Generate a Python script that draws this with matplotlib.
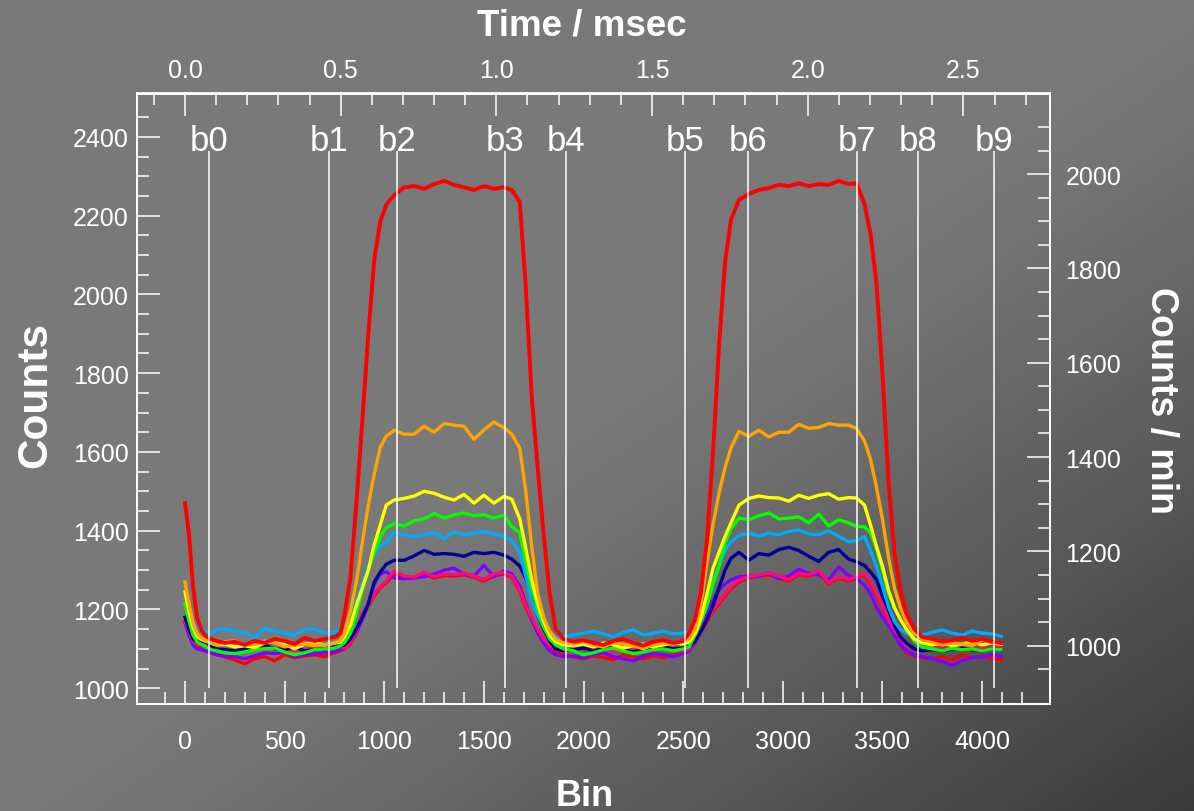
import numpy as np
import matplotlib
matplotlib.use("Agg")
import matplotlib.pyplot as plt
from matplotlib.ticker import FixedLocator, FormatStrFormatter

plt.rcParams['font.family'] = ['Liberation Sans', 'DejaVu Sans']

# ---------------- data ----------------
bins = [0, 20, 40, 60, 80, 100, 130, 160, 200, 250, 300, 350, 400, 450, 500, 550, 600, 650, 700, 750, 780,
        800, 830, 860, 890, 920, 950, 980, 1010,
        1050, 1100, 1150, 1200, 1250, 1300, 1350, 1400, 1450, 1500, 1550, 1600,
        1640, 1680, 1710, 1740, 1770, 1800, 1830, 1860, 1900,
        1950, 2000, 2050, 2100, 2150, 2200, 2250, 2300, 2350, 2400, 2450, 2500,
        2530, 2560, 2590, 2620, 2650, 2680, 2710, 2740,
        2780, 2830, 2880, 2930, 2980, 3030, 3080, 3130, 3180, 3230, 3280, 3330,
        3370, 3410, 3440, 3470, 3500, 3530, 3560, 3590, 3620, 3660, 3700,
        3750, 3800, 3850, 3900, 3950, 4000, 4050, 4095]

red = [1470, 1390, 1260, 1180, 1150, 1135, 1125, 1120, 1115, 1118, 1110, 1120, 1115, 1125, 1120, 1112, 1128, 1120, 1125, 1130, 1140,
       1185, 1280, 1470, 1680, 1900, 2090, 2185, 2228,
       2252, 2272, 2275, 2268, 2280, 2288, 2278, 2272, 2265, 2275, 2268, 2272,
       2265, 2235, 2020, 1740, 1560, 1390, 1240, 1150, 1125,
       1118, 1122, 1115, 1110, 1120, 1125, 1115, 1108, 1118, 1122, 1115, 1120,
       1140, 1175, 1245, 1380, 1600, 1870, 2080, 2190,
       2240, 2255, 2265, 2270, 2278, 2275, 2282, 2275, 2280, 2278, 2288, 2280,
       2282, 2230, 2155, 2030, 1800, 1530, 1345, 1250, 1190, 1150, 1130,
       1125, 1118, 1122, 1128, 1120, 1125, 1118, 1115]

red_low = [1170, 1150, 1125, 1110, 1100, 1095, 1090, 1085, 1080, 1072, 1062, 1075, 1080, 1070, 1085, 1078, 1082, 1085, 1080, 1090, 1095,
           1100, 1112, 1140, 1180, 1210, 1235, 1255, 1268,
           1290, 1282, 1280, 1290, 1280, 1286, 1285, 1288, 1282, 1272, 1285, 1290,
           1282, 1245, 1205, 1175, 1145, 1120, 1100, 1090, 1085,
           1080, 1075, 1082, 1078, 1072, 1085, 1080, 1075, 1082, 1078, 1085, 1088,
           1095, 1115, 1145, 1170, 1195, 1215, 1235, 1252,
           1270, 1280, 1285, 1288, 1280, 1272, 1288, 1285, 1292, 1265, 1280, 1272,
           1280, 1288, 1265, 1235, 1205, 1170, 1140, 1110, 1090, 1082, 1078,
           1075, 1080, 1072, 1085, 1078, 1082, 1076, 1072]

orange = [1270, 1215, 1165, 1140, 1128, 1122, 1115, 1110, 1118, 1120, 1110, 1112, 1120, 1115, 1105, 1110, 1112, 1108, 1110, 1115, 1122,
          1140, 1195, 1270, 1370, 1465, 1545, 1612, 1640,
          1655, 1645, 1645, 1665, 1650, 1672, 1668, 1665, 1632, 1656, 1676, 1662,
          1645, 1610, 1500, 1360, 1240, 1180, 1145, 1125, 1115,
          1112, 1118, 1110, 1105, 1115, 1112, 1108, 1100, 1110, 1115, 1112, 1118,
          1125, 1150, 1215, 1320, 1415, 1495, 1560, 1610,
          1652, 1640, 1655, 1638, 1650, 1650, 1670, 1660, 1662, 1672, 1668, 1668,
          1660, 1628, 1582, 1510, 1430, 1334, 1255, 1205, 1168, 1140, 1125,
          1118, 1110, 1115, 1112, 1108, 1122, 1118, 1115]

yellow = [1245, 1195, 1155, 1132, 1125, 1120, 1115, 1110, 1112, 1105, 1108, 1103, 1115, 1120, 1112, 1100, 1112, 1115, 1110, 1115, 1118,
          1130, 1160, 1210, 1255, 1300, 1365, 1415, 1465,
          1478, 1482, 1488, 1500, 1495, 1485, 1478, 1492, 1470, 1490, 1470, 1487,
          1480, 1430, 1355, 1275, 1215, 1170, 1135, 1118, 1110,
          1108, 1112, 1105, 1115, 1110, 1102, 1108, 1112, 1105, 1110, 1115, 1112,
          1118, 1140, 1180, 1240, 1305, 1345, 1385, 1420,
          1465, 1482, 1488, 1484, 1483, 1475, 1490, 1482, 1490, 1494, 1480, 1484,
          1483, 1465, 1415, 1360, 1310, 1250, 1205, 1175, 1150, 1125, 1115,
          1110, 1115, 1108, 1112, 1118, 1110, 1115, 1112]

green = [1215, 1170, 1135, 1118, 1112, 1108, 1098, 1095, 1090, 1088, 1092, 1098, 1100, 1102, 1092, 1085, 1090, 1098, 1100, 1102, 1108,
         1115, 1140, 1190, 1250, 1300, 1345, 1385, 1408,
         1418, 1412, 1425, 1430, 1444, 1432, 1440, 1445, 1438, 1441, 1432, 1440,
         1410, 1395, 1320, 1255, 1200, 1155, 1125, 1110, 1100,
         1095, 1085, 1090, 1098, 1102, 1095, 1088, 1092, 1098, 1100, 1095, 1100,
         1105, 1135, 1170, 1210, 1265, 1310, 1370, 1405,
         1432, 1428, 1438, 1445, 1430, 1432, 1435, 1420, 1442, 1412, 1428, 1420,
         1411, 1410, 1395, 1355, 1300, 1241, 1205, 1175, 1150, 1120, 1105,
         1100, 1095, 1102, 1098, 1100, 1095, 1100, 1098]

lightblue = [1235, 1200, 1170, 1155, 1148, 1145, 1140, 1148, 1150, 1145, 1140, 1130, 1152, 1145, 1140, 1135, 1148, 1150, 1140, 1142, 1150,
             1160, 1185, 1220, 1265, 1310, 1340, 1360, 1370,
             1395, 1390, 1385, 1390, 1395, 1380, 1396, 1390, 1394, 1398, 1392, 1386,
             1375, 1345, 1285, 1220, 1185, 1155, 1140, 1132, 1130,
             1135, 1140, 1145, 1138, 1130, 1142, 1148, 1135, 1140, 1145, 1138, 1140,
             1142, 1165, 1195, 1230, 1275, 1310, 1350, 1372,
             1388, 1394, 1386, 1394, 1390, 1398, 1402, 1392, 1390, 1400, 1386, 1372,
             1375, 1385, 1350, 1310, 1260, 1207, 1170, 1150, 1140, 1135, 1135,
             1142, 1148, 1140, 1135, 1145, 1140, 1138, 1132]

navy = [1180, 1150, 1125, 1118, 1115, 1112, 1105, 1100, 1098, 1095, 1100, 1102, 1110, 1100, 1098, 1105, 1095, 1098, 1100, 1105, 1108,
        1110, 1125, 1150, 1180, 1215, 1270, 1295, 1315,
        1325, 1325, 1336, 1350, 1340, 1342, 1340, 1335, 1345, 1342, 1345, 1338,
        1328, 1310, 1280, 1230, 1185, 1150, 1120, 1100, 1095,
        1098, 1102, 1095, 1100, 1105, 1098, 1092, 1100, 1098, 1105, 1100, 1102,
        1105, 1120, 1145, 1175, 1210, 1255, 1300, 1330,
        1345, 1325, 1342, 1338, 1352, 1358, 1350, 1335, 1322, 1345, 1352, 1328,
        1321, 1312, 1295, 1276, 1235, 1200, 1160, 1130, 1115, 1100, 1095,
        1098, 1095, 1100, 1102, 1098, 1095, 1100, 1098]

violet = [1165, 1135, 1110, 1100, 1098, 1095, 1090, 1085, 1082, 1080, 1075, 1082, 1090, 1088, 1092, 1080, 1085, 1088, 1090, 1092, 1098,
          1100, 1115, 1140, 1175, 1215, 1265, 1290, 1296,
          1280, 1278, 1280, 1283, 1290, 1300, 1305, 1290, 1285, 1312, 1283, 1298,
          1290, 1260, 1215, 1175, 1140, 1115, 1095, 1085, 1080,
          1082, 1078, 1085, 1090, 1080, 1075, 1070, 1082, 1088, 1085, 1080, 1088,
          1095, 1115, 1150, 1190, 1225, 1250, 1265, 1275,
          1283, 1285, 1285, 1292, 1278, 1285, 1302, 1292, 1288, 1275, 1308, 1286,
          1278, 1262, 1240, 1205, 1180, 1160, 1135, 1110, 1095, 1085, 1080,
          1075, 1068, 1058, 1070, 1078, 1080, 1085, 1082]

pink = [1170, 1145, 1120, 1112, 1110, 1108, 1105, 1098, 1095, 1090, 1092, 1100, 1098, 1105, 1100, 1095, 1098, 1102, 1100, 1105, 1108,
        1100, 1115, 1145, 1190, 1215, 1240, 1258, 1272,
        1298, 1285, 1282, 1295, 1283, 1290, 1288, 1292, 1285, 1276, 1290, 1294,
        1285, 1250, 1210, 1180, 1150, 1125, 1110, 1100, 1095,
        1098, 1102, 1095, 1100, 1092, 1098, 1105, 1100, 1095, 1102, 1098, 1095,
        1100, 1120, 1150, 1175, 1200, 1220, 1240, 1258,
        1275, 1283, 1288, 1292, 1285, 1276, 1292, 1288, 1298, 1268, 1283, 1276,
        1283, 1292, 1270, 1240, 1210, 1175, 1150, 1125, 1110, 1100, 1095,
        1102, 1108, 1100, 1105, 1110, 1102, 1108, 1105]

marker_bins = [120, 723, 1062, 1606, 1912, 2509, 2824, 3373, 3680, 4060]
marker_labels = ['b0', 'b1', 'b2', 'b3', 'b4', 'b5', 'b6', 'b7', 'b8', 'b9']

bottom_ticks = [0, 500, 1000, 1500, 2000, 2500, 3000, 3500, 4000]
top_ticks = [0.0, 0.5, 1.0, 1.5, 2.0, 2.5]
left_ticks = [1000, 1200, 1400, 1600, 1800, 2000, 2200, 2400]
right_ticks = [1000, 1200, 1400, 1600, 1800, 2000]

# ---------------- styling constants ----------------
MS_PER_BIN = 0.00064
C_REF, R_SLOPE = 1108.1, 1.1972   # counts at 1000 counts/min, slope
XLIM = (-241, 4341)
YLIM = (960, 2510)

series = [
    (red_low, '#ff0000', 2.4),
    (violet, '#8000ff', 2.4),
    (pink, '#ff0a78', 2.4),
    (navy, '#000099', 2.4),
    (lightblue, '#00aaff', 2.4),
    (green, '#00ff00', 2.4),
    (yellow, '#ffff00', 2.4),
    (orange, '#ffa500', 2.4),
    (red, '#ff0000', 2.8),
]

W, H = 1194, 812
fig = plt.figure(figsize=(W / 100, H / 100), dpi=100)

# background gradient
bg = fig.add_axes([0, 0, 1, 1], zorder=-10)
gx, gy = np.meshgrid(np.linspace(0, 1, 400), np.linspace(0, 1, 280))
d = np.clip(gx + gy - 1.0, 0, 1)
val = 0.475 - 0.25 * d ** 1.2
bg.imshow(np.dstack([val, val, val]), extent=[0, 1, 0, 1], aspect='auto', origin='upper')
bg.set_axis_off()

ax = fig.add_axes([137 / W, 107 / H, (1050 - 137) / W, (705 - 94.5) / H])
ax.set_facecolor('none')

for ys, col, lw in series:
    ax.plot(bins, ys, color=col, lw=lw, solid_joinstyle='round', zorder=3)

ax.vlines(marker_bins, 1000, 2364, colors='white', lw=1.1, zorder=5)
for b, lab in zip(marker_bins, marker_labels):
    ax.text(b, 2367, lab, color='white', fontsize=25, ha='center', va='baseline', zorder=6)

ax.set_xlim(*XLIM)
ax.set_ylim(*YLIM)

white = 'white'
for sp in ax.spines.values():
    sp.set_color(white)
    sp.set_linewidth(1.3)

ax.xaxis.set_major_locator(FixedLocator(bottom_ticks))
ax.xaxis.set_minor_locator(FixedLocator(np.arange(-100, 4201, 100)))
ax.yaxis.set_major_locator(FixedLocator(left_ticks))
ax.yaxis.set_minor_locator(FixedLocator(np.arange(1000, 2451, 50)))
ax.tick_params(axis='both', which='both', direction='in', colors=white, top=False, right=False)
ax.tick_params(axis='both', which='major', length=16.5, width=1.1, labelsize=18)
ax.tick_params(axis='both', which='minor', length=8.5, width=1.1)
ax.tick_params(axis='x', which='major', pad=18)
ax.tick_params(axis='y', which='major', pad=6)

# top time axis
sec = ax.secondary_xaxis('top', functions=(lambda b: b * MS_PER_BIN, lambda t: t / MS_PER_BIN))
sec.xaxis.set_major_locator(FixedLocator(top_ticks))
sec.xaxis.set_minor_locator(FixedLocator(np.round(np.arange(-0.1, 2.71, 0.1), 2)))
sec.xaxis.set_major_formatter(FormatStrFormatter('%.1f'))
sec.tick_params(which='both', direction='in', colors=white)
sec.tick_params(which='major', length=16.5, width=1.1, labelsize=18, pad=8)
sec.tick_params(which='minor', length=8.5, width=1.1)
sec.spines['top'].set_color(white)
sec.spines['top'].set_linewidth(1.3)

# right counts/min axis
ax2 = ax.twinx()
ax2.set_facecolor('none')
ax2.set_ylim(1000 + (YLIM[0] - C_REF) / R_SLOPE, 1000 + (YLIM[1] - C_REF) / R_SLOPE)
ax2.yaxis.set_major_locator(FixedLocator(right_ticks))
ax2.yaxis.set_minor_locator(FixedLocator(np.arange(950, 2101, 50)))
ax2.tick_params(which='both', direction='in', colors=white)
ax2.tick_params(which='major', length=16.5, width=1.1, labelsize=18, pad=11)
ax2.tick_params(which='minor', length=8.5, width=1.1)
for sp in ax2.spines.values():
    sp.set_color(white)
    sp.set_linewidth(1.3)

# axis titles
fig.text(582 / W, 1 - 35 / H, 'Time / msec', color=white, fontsize=26.5, fontweight='bold',
         ha='center', va='baseline')
fig.text(585 / W, 1 - 806 / H, 'Bin', color=white, fontsize=26, fontweight='bold',
         ha='center', va='baseline')
fig.text(35 / W, 1 - 395 / H, 'Counts', color=white, fontsize=30.5, fontweight='bold',
         rotation=90, ha='center', va='center')
fig.text(1161 / W, 1 - 401 / H, 'Counts / min', color=white, fontsize=27, fontweight='bold',
         rotation=-90, ha='center', va='center')

fig.savefig('out.png', dpi=100)
